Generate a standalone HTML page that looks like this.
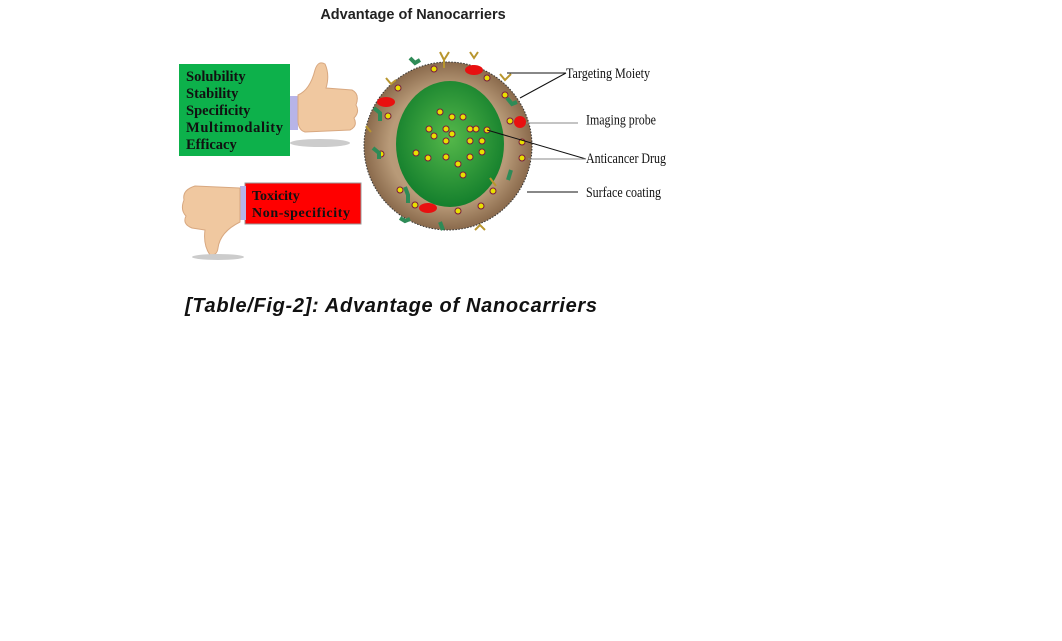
<!DOCTYPE html>
<html><head><meta charset="utf-8"><style>
body{margin:0;background:#fff;width:1062px;height:641px;overflow:hidden;position:relative;font-family:"Liberation Sans",sans-serif}
</style></head><body>
<svg width="1062" height="641" style="position:absolute;left:0;top:0">
<defs>
<radialGradient id="g" cx="0.5" cy="0.45" r="0.6"><stop offset="0" stop-color="#55b84a"/><stop offset="1" stop-color="#0e7a2a"/></radialGradient>
<radialGradient id="b" cx="0.5" cy="0.5" r="0.5"><stop offset="0.7" stop-color="#b89a78"/><stop offset="1" stop-color="#8a6a4c"/></radialGradient>
</defs>
<text x="413" y="19" text-anchor="middle" font-family="Liberation Sans" font-weight="bold" font-size="14.5" fill="#222">Advantage of Nanocarriers</text>
<rect x="179" y="64" width="111" height="92" fill="#0db14b"/>
<g font-family="Liberation Serif" font-weight="bold" font-size="14.5" fill="#111">
<text x="186" y="81">Solubility</text><text x="186" y="98">Stability</text><text x="186" y="115">Specificity</text><text x="186" y="132" textLength="97">Multimodality</text><text x="186" y="149">Efficacy</text></g>
<rect x="290" y="96" width="8" height="34" fill="#b7b4e8"/>
<path d="M298 95 Q310 90 315 70 Q318 60 325 64 Q330 75 326 88 L352 90 Q360 94 356 105 Q360 112 354 118 Q358 126 350 130 L305 132 Q298 130 298 120Z" fill="#f0c8a0" stroke="#d8a880"/>
<ellipse cx="320" cy="143" rx="30" ry="4" fill="#ccc"/>
<rect x="245" y="183" width="116" height="41" fill="#f00" stroke="#999"/>
<g font-family="Liberation Serif" font-weight="bold" font-size="14" fill="#111"><text x="252" y="200">Toxicity</text><text x="252" y="217" textLength="98">Non-specificity</text></g>
<rect x="240" y="186" width="6" height="34" fill="#b7b4e8"/>
<path d="M240 188 L195 186 Q182 190 184 200 Q180 210 186 216 Q182 224 192 228 L205 230 Q203 245 210 255 Q217 256 218 248 Q220 232 240 222Z" fill="#f0c8a0" stroke="#d8a880"/>
<ellipse cx="218" cy="257" rx="26" ry="3" fill="#ccc"/>
<circle cx="448" cy="146" r="84" fill="url(#b)" stroke="#333" stroke-dasharray="1.5 1.5"/>
<ellipse cx="450" cy="144" rx="54" ry="63" fill="url(#g)"/>
<g fill="#e8e000" stroke="#7a1a40" stroke-width="1">
<circle cx="440" cy="112" r="3"/><circle cx="452" cy="117" r="3"/><circle cx="463" cy="117" r="3"/><circle cx="429" cy="129" r="3"/><circle cx="434" cy="136" r="3"/><circle cx="446" cy="129" r="3"/><circle cx="452" cy="134" r="3"/><circle cx="470" cy="129" r="3"/><circle cx="476" cy="129" r="3"/><circle cx="487" cy="130" r="3"/><circle cx="446" cy="141" r="3"/><circle cx="470" cy="141" r="3"/><circle cx="482" cy="141" r="3"/><circle cx="416" cy="153" r="3"/><circle cx="428" cy="158" r="3"/><circle cx="446" cy="157" r="3"/><circle cx="470" cy="157" r="3"/><circle cx="482" cy="152" r="3"/><circle cx="458" cy="164" r="3"/><circle cx="463" cy="175" r="3"/>
<circle cx="434" cy="69" r="3"/><circle cx="487" cy="78" r="3"/><circle cx="398" cy="88" r="3"/><circle cx="388" cy="116" r="3"/><circle cx="381" cy="154" r="3"/><circle cx="400" cy="190" r="3"/><circle cx="415" cy="205" r="3"/><circle cx="458" cy="211" r="3"/><circle cx="481" cy="206" r="3"/><circle cx="493" cy="191" r="3"/><circle cx="510" cy="121" r="3"/><circle cx="522" cy="142" r="3"/><circle cx="522" cy="158" r="3"/><circle cx="505" cy="95" r="3"/></g>
<g fill="#e81010"><ellipse cx="474" cy="70" rx="9" ry="5"/><ellipse cx="386" cy="102" rx="9" ry="5"/><ellipse cx="520" cy="122" rx="6" ry="6"/><ellipse cx="428" cy="208" rx="9" ry="5"/></g>
<g stroke="#2e8b57" stroke-width="4" fill="none"><path d="M410 58l5 5 5-3"/><path d="M374 108l6 5v8"/><path d="M373 148l6 5v6"/><path d="M405 187l3 8v8"/><path d="M440 222l3 8"/><path d="M507 98l5 6 5-2"/><path d="M511 170l-3 10"/><path d="M400 218l5 3 5-2"/></g>
<g stroke="#b8962e" stroke-width="2" fill="none"><path d="M440 52l4 8 5-8M444 60v8"/><path d="M470 52l4 6 4-6"/><path d="M386 78l5 6 5-4"/><path d="M500 74l5 6 6-6"/><path d="M366 126l5 6"/><path d="M475 230l5-5 5 5"/><path d="M490 178l6 8"/></g>
<g stroke="#111" stroke-width="1" fill="none">
<line x1="507" y1="73" x2="566" y2="73"/><line x1="520" y1="98" x2="566" y2="73"/>
<line x1="526" y1="123" x2="578" y2="123" stroke="#888"/>
<line x1="487" y1="130" x2="586" y2="159"/>
<line x1="528" y1="159" x2="586" y2="159" stroke="#888"/>
<line x1="527" y1="192" x2="578" y2="192"/>
</g>
<g font-family="Liberation Serif" font-size="13" fill="#111" transform="scale(1,1.1)">
<text x="566" y="71" textLength="84" lengthAdjust="spacingAndGlyphs">Targeting Moiety</text>
<text x="586" y="113" textLength="70" lengthAdjust="spacingAndGlyphs">Imaging probe</text>
<text x="586" y="148" textLength="80" lengthAdjust="spacingAndGlyphs">Anticancer Drug</text>
<text x="586" y="179" textLength="75" lengthAdjust="spacingAndGlyphs">Surface coating</text></g>
<text x="185" y="312" font-family="Liberation Sans" font-weight="bold" font-style="italic" font-size="20" fill="#111" textLength="412">[Table/Fig-2]: Advantage of Nanocarriers</text>
</svg>
</body></html>
